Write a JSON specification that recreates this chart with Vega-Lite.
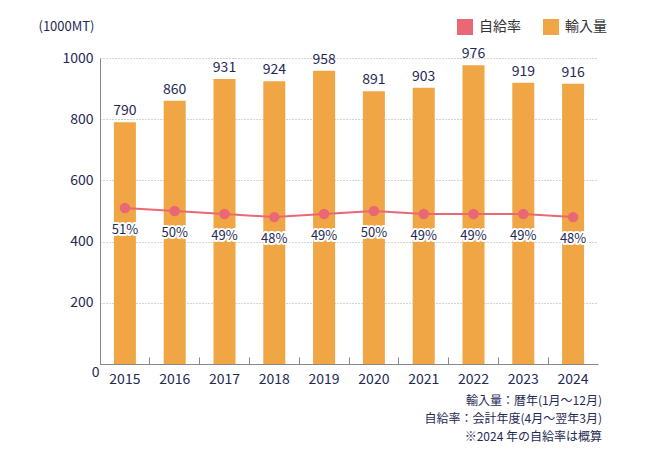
{
  "$schema": "https://vega.github.io/schema/vega-lite/v6.json",
  "autosize": {"type": "none"},
  "width": 498,
  "height": 306,
  "padding": {"left": 100, "top": 58, "right": 52, "bottom": 91},
  "background": "white",
  "config": {
    "font": "Noto Sans CJK JP",
    "view": {"stroke": null}
  },
  "title": {
    "text": ["輸入量：暦年(1月～12月)", "自給率：会計年度(4月～翌年3月)", "※2024 年の自給率は概算"],
    "orient": "bottom",
    "anchor": "end",
    "fontSize": 12,
    "fontWeight": "normal",
    "color": "#1f2a55",
    "lineHeight": 18,
    "offset": 10,
    "dx": -5
  },
  "data": {
    "values": [
      {"year": "2015", "imports": 790, "rate": 51},
      {"year": "2016", "imports": 860, "rate": 50},
      {"year": "2017", "imports": 931, "rate": 49},
      {"year": "2018", "imports": 924, "rate": 48},
      {"year": "2019", "imports": 958, "rate": 49},
      {"year": "2020", "imports": 891, "rate": 50},
      {"year": "2021", "imports": 903, "rate": 49},
      {"year": "2022", "imports": 976, "rate": 49},
      {"year": "2023", "imports": 919, "rate": 49},
      {"year": "2024", "imports": 916, "rate": 48}
    ]
  },
  "encoding": {
    "x": {
      "field": "year",
      "type": "ordinal",
      "scale": {"paddingInner": 0, "paddingOuter": 0},
      "axis": {
        "title": null,
        "labelAngle": 0,
        "labelFontSize": 14,
        "labelColor": "#1f2a55",
        "labelPadding": 15,
        "bandPosition": 0,
        "tickSize": -7,
        "tickColor": "#888888",
        "domainColor": "#888888",
        "grid": false
      }
    }
  },
  "layer": [
    {
      "layer": [
        {
          "mark": {"type": "bar", "width": 22, "color": "#f0a645"},
          "encoding": {
            "y": {
              "field": "imports",
              "type": "quantitative",
              "scale": {"domain": [0, 1000]},
              "axis": {
                "title": "(1000MT)",
                "titleAngle": 0,
                "titleX": -34,
                "titleY": -25,
                "titleAlign": "center",
                "titleFontSize": 13,
                "titleFontWeight": "normal",
                "titleColor": "#1f2a55",
                "values": [0, 200, 400, 600, 800, 1000],
                "format": "d",
                "labelFontSize": 14,
                "labelColor": "#1f2a55",
                "labelPadding": {"condition": {"test": "datum.value === 0", "value": 1}, "value": 7},
                "labelOffset": {"condition": {"test": "datum.value === 0", "value": 8}, "value": 0},
                "ticks": false,
                "domainColor": "#888888",
                "gridColor": "#aaaaaa",
                "gridDash": [1, 2],
                "grid": true
              }
            },
            "color": {
              "datum": "輸入量",
              "scale": {"domain": ["自給率", "輸入量"], "range": ["#ea6876", "#f0a645"]},
              "legend": {
                "title": null,
                "orient": "none",
                "direction": "horizontal",
                "legendX": 357,
                "legendY": -39,
                "symbolType": "square",
                "symbolSize": 256,
                "symbolStrokeWidth": 0,
                "labelFontSize": 14,
                "labelColor": "#333333",
                "labelOffset": 6,
                "columnPadding": 22
              }
            }
          }
        },
        {
          "mark": {"type": "text", "dy": -11, "fontSize": 14, "color": "#1f2a55"},
          "encoding": {
            "y": {"field": "imports", "type": "quantitative"},
            "text": {"field": "imports", "type": "quantitative"}
          }
        }
      ]
    },
    {
      "transform": [{"calculate": "datum.rate + '%'", "as": "label"}],
      "layer": [
        {
          "mark": {"type": "line", "color": "#ea6876", "strokeWidth": 2},
          "encoding": {
            "y": {"field": "rate", "type": "quantitative", "scale": {"domain": [0, 100]}, "axis": null}
          }
        },
        {
          "mark": {"type": "point", "filled": true, "size": 110, "opacity": 1, "color": "#ea6876"},
          "encoding": {
            "y": {"field": "rate", "type": "quantitative"}
          }
        },
        {
          "mark": {"type": "text", "dy": 22, "fontSize": 13, "stroke": "white", "strokeWidth": 4, "strokeJoin": "round", "color": "white"},
          "encoding": {
            "y": {"field": "rate", "type": "quantitative"},
            "text": {"field": "label", "type": "nominal"}
          }
        },
        {
          "mark": {"type": "text", "dy": 22, "fontSize": 13, "color": "#1f2a55"},
          "encoding": {
            "y": {"field": "rate", "type": "quantitative"},
            "text": {"field": "label", "type": "nominal"}
          }
        }
      ]
    }
  ],
  "resolve": {"scale": {"y": "independent"}}
}
